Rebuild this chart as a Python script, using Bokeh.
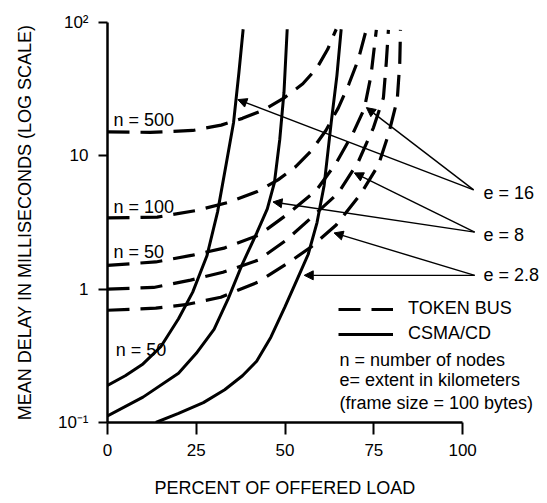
from bokeh.plotting import figure
from bokeh.models import (FixedTicker, Label, Arrow, NormalHead, Legend, LegendItem, Range1d)
from bokeh.embed import file_html
from bokeh.resources import INLINE

FONT = "Liberation Sans"

# ---------------- data (percent of offered load, mean delay in ms) ----------------
# CSMA/CD, n = 50 (solid)
csma_e16_x = [0, 5, 10, 15, 20, 24, 28, 31, 33.5, 35.5, 37, 38.2]
csma_e16_y = [0.19, 0.224, 0.275, 0.37, 0.60, 0.95, 1.78, 3.8, 8.9, 17.8, 42, 89]

csma_e8_x = [0, 10, 20, 25, 30, 34, 38, 42, 45, 47, 48.5, 49.7, 50.6]
csma_e8_y = [0.112, 0.155, 0.234, 0.33, 0.50, 0.85, 1.55, 2.63, 4.0, 6.3, 13.2, 30, 89]

csma_e28_x = [13.6, 20, 27, 33, 38, 42, 46, 50, 53.5, 56.5, 59, 61, 63, 64.6, 65.8]
csma_e28_y = [0.1, 0.117, 0.141, 0.176, 0.224, 0.288, 0.436, 0.74, 1.2, 1.82, 3.16, 6.0, 17.8, 40, 89]

# Token bus (dashed)
tok_n500_x = [0, 12, 24, 32, 38, 44, 50, 55, 59, 62, 64.4]
tok_n500_y = [15.1, 15.0, 15.5, 17.0, 19.1, 22.1, 27.5, 34.7, 45.7, 63, 89]

tok_n100_x = [0, 14, 25, 34, 42, 48, 53, 57.5, 61.5, 65, 68, 70.6, 72.9]
tok_n100_y = [3.42, 3.47, 3.89, 4.47, 5.37, 6.6, 8.3, 11.0, 15.5, 22.9, 34.7, 52.5, 89]

tok_n50_e16_x = [0, 13.6, 24, 32.8, 42.7, 51.1, 58.8, 64.4, 69.2, 72.3, 74.2, 75.7]
tok_n50_e16_y = [1.51, 1.6, 1.8, 2.03, 2.55, 3.72, 5.5, 8.85, 14.9, 22.5, 40, 88]

tok_n50_e8_x = [0, 13.0, 23.4, 32.5, 42.4, 50.3, 57.3, 65.0, 70.6, 74.9, 77.7, 78.5, 79.1]
tok_n50_e8_y = [1.0, 1.03, 1.17, 1.34, 1.65, 2.33, 3.42, 5.27, 9.0, 16.3, 27.3, 50, 88]

tok_n50_e28_x = [0, 13.6, 22.6, 31.9, 42.4, 50.8, 57.3, 64.4, 71.5, 76.3, 79.1, 81.6, 82.3, 82.5]
tok_n50_e28_y = [0.695, 0.72, 0.77, 0.87, 1.13, 1.57, 2.07, 3.03, 5.27, 8.55, 14.4, 26.4, 50, 88]

x_ticks = [0, 25, 50, 75, 100]
y_ticks = [0.1, 1, 10, 100]
y_tick_labels = ["10\u207b\u00b9", "1", "10", "10\u00b2"]

n_label_text = ["n = 500", "n = 100", "n = 50", "n = 50"]
n_label_x = [1.7, 1.7, 1.7, 2.3]
n_label_y = [18.7, 4.14, 1.90, 0.347]

e_label_text = ["e = 16", "e = 8", "e = 2.8"]
e_label_x = [105.9, 105.9, 105.9]
e_label_y = [5.27, 2.55, 1.27]

# arrows: (start x, start y, end x, end y)
arrow_x0 = [103.1, 103.1, 103.4, 103.4, 103.4, 103.4]
arrow_y0 = [5.55, 5.55, 2.68, 2.68, 1.27, 1.27]
arrow_x1 = [36.7, 72.9, 46.6, 69.5, 63.8, 55.4]
arrow_y1 = [26.4, 23.0, 4.51, 7.45, 2.64, 1.27]

note_text = ["n = number of nodes", "e= extent in kilometers", "(frame size = 100 bytes)"]
note_x = [65.3, 65.3, 65.3]
note_y = [0.292, 0.207, 0.139]

# ---------------- figure ----------------
p = figure(width=547, height=503, output_backend="svg", toolbar_location=None,
           y_axis_type="log", x_range=Range1d(0, 123.9), y_range=Range1d(0.1, 100),
           min_border_left=107, min_border_right=0, min_border_top=22, min_border_bottom=81)
p.outline_line_color = None
p.xgrid.visible = False
p.ygrid.visible = False
p.background_fill_color = "white"
p.border_fill_color = "white"

solid = []
for xs, ys in [(csma_e16_x, csma_e16_y), (csma_e8_x, csma_e8_y), (csma_e28_x, csma_e28_y)]:
    solid.append(p.line(xs, ys, line_width=3, line_color="black"))

dashed = []
for xs, ys in [(tok_n500_x, tok_n500_y), (tok_n100_x, tok_n100_y), (tok_n50_e16_x, tok_n50_e16_y),
               (tok_n50_e8_x, tok_n50_e8_y), (tok_n50_e28_x, tok_n50_e28_y)]:
    dashed.append(p.line(xs, ys, line_width=3.2, line_color="black", line_dash="22 11"))

# axes
for ax in (p.xaxis[0], p.yaxis[0]):
    ax.axis_line_width = 2.5
    ax.axis_line_color = "black"
    ax.major_tick_line_width = 2
    ax.major_tick_line_color = "black"
    ax.minor_tick_line_color = None
    ax.major_tick_in = 0
    ax.major_label_text_font = FONT
    ax.major_label_text_font_size = "17px"
    ax.major_label_text_color = "black"
    ax.axis_label_text_font = FONT
    ax.axis_label_text_font_size = "18px"
    ax.axis_label_text_font_style = "normal"
    ax.axis_label_text_color = "black"

p.xaxis.ticker = FixedTicker(ticks=x_ticks)
p.xaxis.bounds = (0, 100)
p.xaxis.major_tick_out = 12
p.xaxis.major_label_standoff = 9
# trailing no-break spaces shift the centred title over the 0-100 part of the axis
p.xaxis.axis_label = "PERCENT OF OFFERED LOAD" + "\u00a0" * 17
p.xaxis.axis_label_standoff = 19

p.yaxis.ticker = FixedTicker(ticks=y_ticks)
p.yaxis.major_tick_out = 9
p.yaxis.major_label_standoff = 10
p.yaxis.major_label_overrides = {t: s for t, s in zip(y_ticks, y_tick_labels)}
p.yaxis.axis_label = "MEAN DELAY IN MILLISECONDS (LOG SCALE)"
p.yaxis.axis_label_standoff = 20

# legend
legend = Legend(items=[LegendItem(label="TOKEN BUS", renderers=[dashed[0]]),
                       LegendItem(label="CSMA/CD", renderers=[solid[0]])],
                location=(231, 78), orientation="vertical",
                glyph_width=55, glyph_height=20, label_height=20, label_standoff=15,
                spacing=4, padding=0, margin=0,
                label_text_font=FONT, label_text_font_size="18px", label_text_color="black",
                background_fill_alpha=0, border_line_color=None)
p.add_layout(legend, "center")

for t, x, y in zip(note_text, note_x, note_y):
    p.add_layout(Label(x=x, y=y, text=t, text_font=FONT, text_font_size="18px",
                       text_baseline="middle", text_align="left", text_color="black"))

for t, x, y in zip(n_label_text, n_label_x, n_label_y):
    p.add_layout(Label(x=x, y=y, text=t, text_font=FONT, text_font_size="18px",
                       text_baseline="middle", text_align="left", text_color="black"))

for t, x, y in zip(e_label_text, e_label_x, e_label_y):
    p.add_layout(Label(x=x, y=y, text=t, text_font=FONT, text_font_size="18px",
                       text_baseline="middle", text_align="left", text_color="black"))

for x0, y0, x1, y1 in zip(arrow_x0, arrow_y0, arrow_x1, arrow_y1):
    p.add_layout(Arrow(end=NormalHead(size=9, fill_color="black", line_color="black", line_width=1),
                       x_start=x0, y_start=y0, x_end=x1, y_end=y1,
                       line_width=1.4, line_color="black"))

open("out.html", "w").write(file_html(p, INLINE))
